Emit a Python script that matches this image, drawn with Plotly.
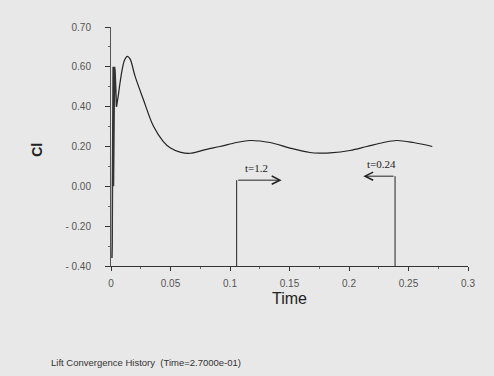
import plotly.graph_objects as go

# ---- data ----
# early transient spikes near t = 0
t_spike = [0.0008, 0.0010, 0.0012, 0.0018, 0.0021, 0.0024, 0.0027, 0.0030, 0.0034, 0.0040, 0.0046]
cl_spike = [-0.36, -0.30, 0.00, 0.60, 0.00, 0.59, 0.02, 0.60, 0.58, 0.47, 0.40]

# smooth lift history
t_main = [0.0046, 0.0060, 0.0076, 0.0095, 0.0115, 0.0137, 0.0160, 0.0202, 0.0272, 0.0356,
          0.0440, 0.0500, 0.0580, 0.0664, 0.0804, 0.0916, 0.1056, 0.1168, 0.1336, 0.1504,
          0.1672, 0.1760, 0.1840, 0.2008, 0.2149, 0.2289, 0.2401, 0.2541, 0.2700]
cl_main = [0.40, 0.45, 0.52, 0.59, 0.635, 0.653, 0.64, 0.553, 0.436, 0.303,
           0.225, 0.192, 0.172, 0.166, 0.186, 0.200, 0.220, 0.230, 0.220, 0.192,
           0.170, 0.167, 0.168, 0.180, 0.200, 0.220, 0.230, 0.220, 0.200]

# period markers
mark_t = [0.1056, 0.2387]
mark_level = [0.031, 0.051]
arrow_to = [0.1434, 0.2120]
mark_text = ["t=1.2", "t=0.24"]
mark_text_t = [0.1224, 0.2277]
mark_text_level = [0.090, 0.110]

# axis ticks
y_tickvals = [-0.4, -0.2, 0.0, 0.2, 0.4, 0.6, 0.8]
y_ticktext = ["- 0.40", "- 0.20", "0.00", "0.20", "0.40", "0.60", "0.70"]
x_tickvals = [0, 0.05, 0.1, 0.15, 0.2, 0.25, 0.3]
x_ticktext = ["0", "0.05", "0.1", "0.15", "0.2", "0.25", "0.3"]

BG = "#e8e8e8"
fig = go.Figure()
fig.add_trace(go.Scatter(x=t_spike, y=cl_spike, mode="lines",
                         line=dict(color="#333333", width=1.5), showlegend=False))
fig.add_trace(go.Scatter(x=t_main, y=cl_main, mode="lines",
                         line=dict(color="#222222", width=1.2, shape="spline", smoothing=1.0),
                         showlegend=False))

for i in range(len(mark_t)):
    fig.add_shape(type="line", xref="x", yref="y", x0=mark_t[i], x1=mark_t[i],
                  y0=-0.4, y1=mark_level[i], line=dict(color="#222222", width=1))
    fig.add_annotation(x=arrow_to[i], y=mark_level[i], ax=mark_t[i], ay=mark_level[i],
                       xref="x", yref="y", axref="x", ayref="y", text="",
                       showarrow=True, arrowhead=5, arrowsize=1.6, arrowwidth=1,
                       arrowcolor="#222222")
    fig.add_annotation(x=mark_text_t[i], y=mark_text_level[i], xref="x", yref="y",
                       text=mark_text[i], showarrow=False,
                       font=dict(family="Liberation Serif", size=11, color="#222222"))

fig.add_annotation(x=-0.208, y=0.485, xref="paper", yref="paper", text="<b>Cl</b>",
                   textangle=-90, showarrow=False, xanchor="center", yanchor="middle",
                   font=dict(family="Liberation Sans", size=14, color="#222222"))
fig.add_annotation(x=0.501, y=-0.138, xref="paper", yref="paper", text="Time",
                   showarrow=False, xanchor="center", yanchor="middle",
                   font=dict(family="Liberation Sans", size=16, color="#222222"))
fig.add_annotation(x=-0.174, y=-0.402, xref="paper", yref="paper", xanchor="left",
                   yanchor="middle",
                   text="Lift Convergence History  (Time=2.7000e-01)", showarrow=False,
                   font=dict(family="Liberation Sans", size=9.5, color="#333333"))

fig.update_layout(
    width=494, height=376,
    margin=dict(l=111, r=26, t=27, b=110),
    paper_bgcolor=BG, plot_bgcolor=BG,
    xaxis=dict(range=[0, 0.3], tickvals=x_tickvals, ticktext=x_ticktext,
               showgrid=False, zeroline=False, showline=True, linecolor="#333333",
               linewidth=1, ticks="outside", ticklen=4, tickcolor="#333333",
               minor=dict(dtick=0.025, ticks="outside", ticklen=2, tickcolor="#666666"),
               tickfont=dict(family="Liberation Sans", size=10, color="#555555"),
               ticklabelstandoff=4),
    yaxis=dict(range=[-0.4, 0.8], tickvals=y_tickvals, ticktext=y_ticktext,
               showgrid=False, zeroline=False, showline=True, linecolor="#555555",
               linewidth=1, ticks="outside", ticklen=5, tickcolor="#333333",
               minor=dict(dtick=0.1, ticks="outside", ticklen=2, tickcolor="#666666"),
               tickfont=dict(family="Liberation Sans", size=10, color="#555555"),
               ticklabelstandoff=12),
)

fig.write_html("out.html")
